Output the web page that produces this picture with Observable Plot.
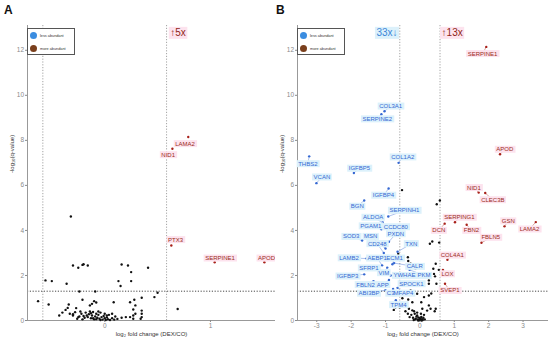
<!DOCTYPE html>
<html><head><meta charset="utf-8">
<script src="https://cdn.jsdelivr.net/npm/d3@7"></script>
<script src="https://cdn.jsdelivr.net/npm/@observablehq/plot@0.6"></script>
<style>
body{margin:0;background:#fff;}
#wrap{position:relative;width:550px;height:345px;overflow:hidden;background:#fff;}
.panel{position:absolute;top:0;}
.tag{position:absolute;top:3px;font-weight:bold;font-size:12px;font-family:"Liberation Sans",Arial,sans-serif;color:#111;}
.legend{position:absolute;top:28px;width:48px;height:27px;border:1px solid #555;background:#fff;font-family:"Liberation Sans",Arial,sans-serif;font-size:3.8px;color:#333;box-sizing:border-box;}
.legend .row{position:absolute;left:2px;display:flex;align-items:center;}
.legend .sw{width:7px;height:7px;border-radius:50%;margin-right:3px;}
</style>
</head><body>
<div id="wrap">
  <div class="panel" id="pa" style="left:0"></div>
  <div class="panel" id="pb" style="left:275px"></div>
  <div class="tag" style="left:4px">A</div>
  <div class="tag" style="left:276px">B</div>
  <div class="legend" style="left:27px"><div class="row" style="top:3px"><div class="sw" style="background:#3b8de0"></div>less abundant</div><div class="row" style="top:16px"><div class="sw" style="background:#7a3f1c"></div>more abundant</div></div>
  <div class="legend" style="left:297px"><div class="row" style="top:3px"><div class="sw" style="background:#3b8de0"></div>less abundant</div><div class="row" style="top:16px"><div class="sw" style="background:#7a3f1c"></div>more abundant</div></div>
</div>
<script>
// ---------- shared ----------
const foldCut = [-0.585, 0.585];
const qCut = [1.301];
const yTicks = [0, 2, 4, 6, 8, 10, 12];
const xTitle = "log\u2082 fold change (DEX/CO)";
const yTitle = "-log\u2081\u2080(q-value)";

// ---------- panel A ----------
const aTicks = [0, 1];
const aBackground = [
[-0.63,0.86],[-0.56,1.78],[-0.50,1.75],[-0.53,0.71],[-0.43,0.22],[-0.32,4.62],[-0.36,1.63],[-0.30,2.44],[-0.25,2.34],[-0.21,2.47],[-0.20,2.50],[-0.16,2.44],[-0.24,1.29],[-0.21,0.92],[-0.09,1.29],[-0.34,0.71],[-0.37,0.47],[-0.35,0.56],[-0.33,0.30],[-0.28,0.37],[-0.30,0.22],[-0.25,0.15],[-0.12,0.74],[-0.10,0.86],[-0.14,0.67],[-0.08,0.80],
[0.16,2.49],[0.22,2.44],[0.25,2.15],[0.41,2.34],[0.13,1.75],[0.15,1.53],[0.25,1.75],[0.50,1.23],[0.47,1.04],[0.35,1.01],[0.085,0.81],[0.24,0.81],[0.28,0.92],[0.29,0.67],[0.35,0.44],[0.35,0.30],[0.35,0.15],[0.29,0.30],[0.27,0.22],[0.24,0.15],[0.20,0.15],[0.16,0.12],[0.12,0.07],[0.07,0.30],[0.69,0.51],[0.27,0.49],[0.34,0.08],[0.27,0.08],
[-0.22,0.30],[-0.20,0.20],[-0.18,0.35],[-0.16,0.15],[-0.15,0.28],[-0.13,0.10],[-0.12,0.22],[-0.11,0.38],[-0.10,0.05],[-0.09,0.18],[-0.08,0.30],[-0.07,0.12],[-0.06,0.25],[-0.05,0.08],[-0.04,0.35],[-0.03,0.15],[-0.02,0.04],[-0.01,0.20],[0.00,0.10],[0.01,0.02],[0.02,0.14],[0.03,0.06],[0.04,0.25],[0.05,0.02],[-0.14,0.40],[-0.19,0.12],[-0.24,0.18],[-0.26,0.08],[-0.30,0.28],[-0.06,0.40],[0.00,0.30],[0.07,0.10],[0.10,0.18],[-0.08,0.06],[-0.11,0.10],[-0.17,0.22],[-0.04,0.02],[0.02,0.22],[-0.13,0.32],[-0.21,0.05],[0.09,0.04],[-0.23,0.40],[-0.40,0.35],[-0.27,0.55]
];
const aMoreGenes = ["LAMA2","NID1","PTX3","SERPINE1","APOD"];
const aMoreX = [0.79, 0.64, 0.63, 1.04, 1.51];
const aMoreY = [8.15, 7.63, 3.33, 2.59, 2.59];
const aMoreLabelX = [0.76, 0.60, 0.67, 1.09, 1.53];
const aMoreLabelY = [7.85, 7.36, 3.59, 2.77, 2.77];
const aNoteText = ["\u21915x"];
const aNoteX = [0.62];
const aNoteY = [12.76];

// ---------- panel B ----------
const bTicks = [-3, -2, -1, 0, 1, 2, 3];
const bBackground = [
[-0.52,5.79],[0.49,5.16],[0.58,5.33],[0.29,3.41],[0.36,3.51],[0.56,3.46],
[-0.63,2.96],[-0.35,2.81],[-0.34,2.64],[-0.27,2.52],[-0.32,2.37],[-0.13,2.30],
[0.46,2.52],[0.41,2.07],[0.44,1.96],[0.26,1.78],[0.48,1.63],[0.21,2.10],[0.22,2.00],[0.26,1.63],[0.39,2.30],[0.55,2.25],
[0.26,1.11],[0.33,1.20],[0.12,1.04],[0.31,0.52],[0.43,0.41],
[-0.08,1.19],[-0.27,1.33],[-0.42,1.19],[-0.51,0.99],[-0.34,0.93],[-0.22,0.81],[-0.47,0.71],[-0.59,0.59],[-0.32,0.52],[-0.17,0.41],[-0.42,0.41],[-0.71,0.59],[-0.76,0.47],[-0.08,0.22],[0.46,0.52],[0.21,0.44],[0.26,0.67],[0.07,0.52],[0.04,0.81],
[-0.25,0.25],[-0.20,0.12],[-0.15,0.30],[-0.12,0.08],[-0.10,0.18],[-0.06,0.05],[-0.04,0.14],[-0.02,0.02],[0.00,0.10],[0.02,0.04],[0.04,0.16],[0.06,0.06],[0.08,0.02],[0.10,0.12],[-0.30,0.15],[-0.35,0.30],[0.12,0.25],[-0.18,0.02],[0.03,0.30],[-0.08,0.35],[-0.14,0.05],[0.05,0.00],[-0.05,0.00],[0.14,0.05],[-0.22,0.45],[-0.38,0.62]
];
const bLessGenes = ["COL3A1","SERPINE2","COL1A2","THBS2","VCAN","IGFBP5","IGFBP4","BGN","SERPINH1","ALDOA","PGAM1","CCDC80","SOD3","MSN","PXDN","CD248","TXN","LAMB2","AEBP1","ECM1","CALR","SFRP1","IGFBP3","VIM","YWHAE","PKM","FBLN2","APP","SPOCK1","ABI3BP","C3","MFAP4","TPM4"];
const bLessX = [-1.03,-1.12,-0.62,-3.22,-3.01,-1.92,-0.91,-1.62,-0.92,-1.08,-1.12,-0.87,-1.68,-1.00,-0.90,-1.05,-0.65,-1.55,-1.10,-0.80,-0.75,-1.20,-1.62,-0.95,-0.85,-0.30,-1.35,-0.90,-0.55,-1.00,-0.78,-0.65,-0.70];
const bLessY = [9.29,9.16,7.00,7.29,6.10,6.55,5.86,5.33,4.62,4.35,4.05,3.80,3.55,3.20,3.50,3.00,3.05,2.75,2.45,2.50,2.55,2.35,2.05,2.35,2.00,2.25,1.75,1.80,1.55,1.35,1.40,1.45,0.90];
const bLessLabelX = [-0.85,-1.24,-0.50,-3.26,-2.85,-1.76,-1.06,-1.82,-0.45,-1.36,-1.43,-0.70,-2.00,-1.43,-0.70,-1.24,-0.25,-2.06,-1.24,-0.74,-0.15,-1.48,-2.10,-1.05,-0.45,0.12,-1.58,-1.08,-0.25,-1.48,-0.85,-0.48,-0.62];
const bLessLabelY = [9.52,8.95,7.26,6.96,6.37,6.76,5.56,5.07,4.89,4.58,4.20,4.16,3.73,3.73,3.85,3.41,3.41,2.78,2.77,2.77,2.40,2.33,1.97,2.12,2.00,2.00,1.59,1.59,1.63,1.21,1.21,1.21,0.70];
const bMoreGenes = ["SERPINE1","APOD","NID1","CLEC3B","SERPING1","DCN","FBN2","GSN","LAMA2","FBLN5","COL4A1","LOX","SVEP1"];
const bMoreX = [1.93,2.33,1.71,1.90,1.02,0.72,1.36,2.46,3.37,1.79,0.80,0.67,0.73];
const bMoreY = [12.15,7.38,5.68,5.66,4.36,4.30,4.25,4.18,4.37,3.45,2.70,2.25,1.63];
const bMoreLabelX = [1.82,2.47,1.57,2.12,1.15,0.55,1.50,2.57,3.19,2.06,0.94,0.80,0.87];
const bMoreLabelY = [11.85,7.60,5.90,5.36,4.58,4.00,4.00,4.42,4.06,3.69,2.90,2.07,1.33];
const bNoteText = ["33x\u2193", "\u219113x"];
const bNoteX = [-0.65, 0.63];
const bNoteY = [12.76, 12.76];

// ---------- colours ----------
const blueText = "#3568d2", blueBox = "#dcf1fb", blueDot = "#3568d2";
const redText = "#9a2c19", redBox = "#fde3ee", redDot = "#a8201a";
const fontNarrow = "'Liberation Sans Narrow','Liberation Sans',Arial,sans-serif";

function labelMarks(genes, X, Y, LX, LY, txt, box, dot, cls, withLinks){
  const idx = d3.range(genes.length);
  const m = [];
  if (withLinks) m.push(Plot.link(idx, {x1: i => X[i], y1: i => Y[i], x2: i => LX[i], y2: i => LY[i], stroke: dot, strokeWidth: 0.5, strokeOpacity: 0.8}));
  m.push(Plot.dot(idx, {x: i => X[i], y: i => Y[i], r: 1.2, fill: dot, stroke: "none"}));
  m.push(Plot.text(idx, {x: i => LX[i], y: i => LY[i], text: i => genes[i], fill: txt, fontSize: 6, fontFamily: fontNarrow, className: cls}));
  return m;
}

function panel(cfg){
  const marks = [
    Plot.ruleX(foldCut, {stroke: "#9a9a9a", strokeDasharray: "1.2,1.6", strokeWidth: 0.9}),
    Plot.ruleY(qCut, {stroke: "#333", strokeDasharray: "1.2,1.6", strokeWidth: 0.9}),
    Plot.ruleX([cfg.xDomain[0]], {stroke: "#999", strokeWidth: 1}),
    Plot.ruleY([0], {stroke: "#999", strokeWidth: 1}),
    Plot.axisY({ticks: yTicks, tickFormat: d => String(d), tickSize: 2, tickPadding: 1.5, fontSize: 6.5, color: "#8a8a8a", label: null, fontFamily: fontNarrow}),
    Plot.axisX({ticks: cfg.xTicks, tickFormat: d => String(d), tickSize: 2, tickPadding: 1, fontSize: 6.5, color: "#8a8a8a", label: null, fontFamily: fontNarrow}),
    Plot.text([yTitle], {text: d => d, frameAnchor: "left", dx: -15, rotate: -90, fontSize: 6, fill: "#333", fontFamily: fontNarrow}),
    Plot.text([xTitle], {text: d => d, frameAnchor: "bottom", dy: 15.5, fontSize: 6, fill: "#333", fontFamily: fontNarrow}),
    Plot.dot(cfg.black, {x: d => d[0], y: d => d[1], r: 1.2, fill: "#111", stroke: "none"}),
    ...cfg.extra,
    ...cfg.notes
  ];
  return Plot.plot({
    width: 275, height: 345,
    marginLeft: cfg.marginLeft, marginRight: cfg.marginRight, marginTop: 25, marginBottom: 25,
    x: {domain: cfg.xDomain},
    y: {domain: [0, 13.1]},
    style: {background: "transparent", fontFamily: fontNarrow},
    marks
  });
}

const noteA = d3.range(aNoteText.length);
const plotA = panel({
  marginLeft: 27, marginRight: 0, xDomain: [-0.73, 1.615], xTicks: aTicks, black: aBackground,
  extra: labelMarks(aMoreGenes, aMoreX, aMoreY, aMoreLabelX, aMoreLabelY, redText, redBox, redDot, "lab-red", false),
  notes: [Plot.text(noteA, {x: i => aNoteX[i], y: i => aNoteY[i], text: i => aNoteText[i], textAnchor: "start", fontSize: 10, fill: "#8e1f17", fontFamily: fontNarrow, className: "note-red"})]
});
const noteB = d3.range(bNoteText.length);
const plotB = panel({
  marginLeft: 22, marginRight: 2, xDomain: [-3.56, 3.74], xTicks: bTicks, black: bBackground,
  extra: [
    ...labelMarks(bLessGenes, bLessX, bLessY, bLessLabelX, bLessLabelY, blueText, blueBox, blueDot, "lab-blue", true),
    ...labelMarks(bMoreGenes, bMoreX, bMoreY, bMoreLabelX, bMoreLabelY, redText, redBox, redDot, "lab-red", true)
  ],
  notes: [
    Plot.text([0], {x: bNoteX[0], y: bNoteY[0], text: [bNoteText[0]], textAnchor: "end", fontSize: 10, fill: "#3b86d8", fontFamily: fontNarrow, className: "note-blue"}),
    Plot.text([1], {x: bNoteX[1], y: bNoteY[1], text: [bNoteText[1]], textAnchor: "start", fontSize: 10, fill: "#8e1f17", fontFamily: fontNarrow, className: "note-red"})
  ]
});
document.getElementById("pa").appendChild(plotA);
document.getElementById("pb").appendChild(plotB);

// background boxes behind labels (sized from rendered text)
function addBoxes(svg, cls, fill){
  svg.querySelectorAll("g." + cls).forEach(g => {
    const bg = document.createElementNS("http://www.w3.org/2000/svg", "g");
    if (g.getAttribute("transform")) bg.setAttribute("transform", g.getAttribute("transform"));
    g.querySelectorAll("text").forEach(t => {
      const b = t.getBBox();
      const r = document.createElementNS("http://www.w3.org/2000/svg", "rect");
      r.setAttribute("x", b.x - 1.5); r.setAttribute("y", b.y - 0.5);
      r.setAttribute("width", b.width + 3); r.setAttribute("height", b.height + 1);
      r.setAttribute("fill", fill);
      if (t.getAttribute("transform")) r.setAttribute("transform", t.getAttribute("transform"));
      bg.appendChild(r);
    });
    g.parentNode.insertBefore(bg, g);
  });
}
[plotA, plotB].forEach(svg => {
  addBoxes(svg, "lab-red", redBox);
  addBoxes(svg, "lab-blue", blueBox);
  addBoxes(svg, "note-red", redBox);
  addBoxes(svg, "note-blue", blueBox);
});
</script>
</body></html>
